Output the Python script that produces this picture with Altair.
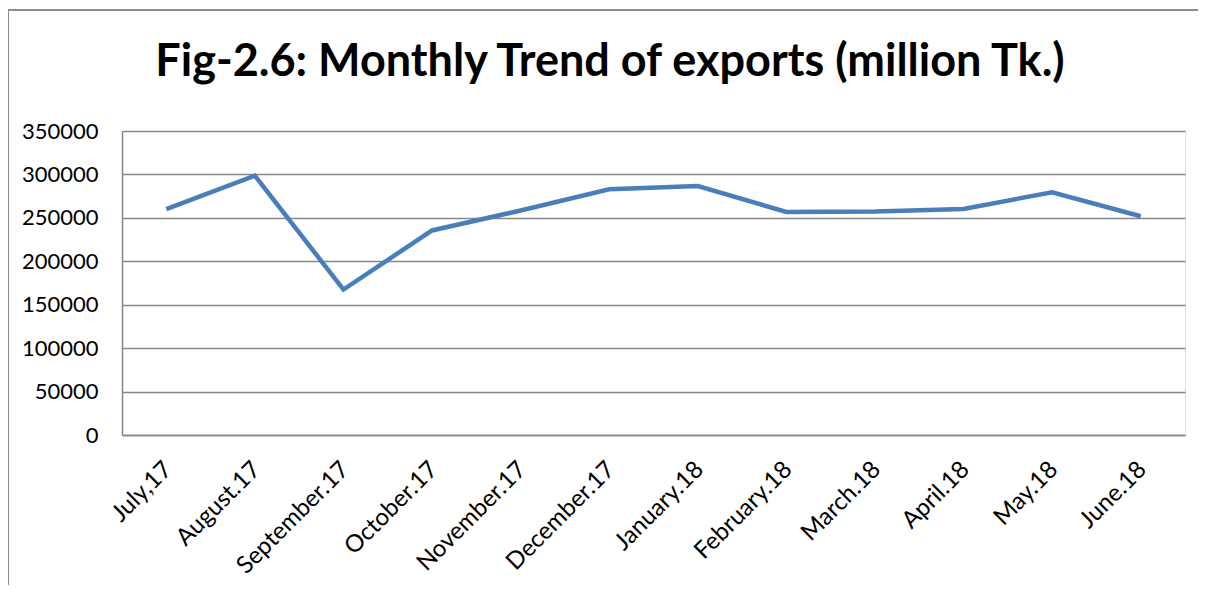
import altair as alt
import pandas as pd

months = ["July,17", "August.17", "September.17", "October.17", "November.17",
          "December.17", "January.18", "February.18", "March.18", "April.18",
          "May.18", "June.18"]
exports = [260000, 298500, 167500, 235500, 258500, 283000, 286700, 256800,
           257200, 260200, 279500, 251900]
y_ticks = [0, 50000, 100000, 150000, 200000, 250000, 300000, 350000]
title_text = "Fig-2.6: Monthly Trend of exports (million Tk.)"

df = pd.DataFrame({"Month": months, "Exports": exports})
title_df = pd.DataFrame({"t": [title_text]})

FONT = "Lato"
GRAY = "#878787"

line = alt.Chart(df).mark_line(color="#4A7EBB", strokeWidth=4.5).encode(
    x=alt.X("Month:N", sort=months, title=None,
            scale=alt.Scale(type="point", padding=0.5),
            axis=alt.Axis(labelAngle=-45, labelFont=FONT, labelFontSize=24,
                          labelColor="#000000", ticks=False, domainColor=GRAY,
                          domainWidth=1.5, labelPadding=22, labelAlign="right",
                          labelBaseline="top", labelOffset=-7, grid=False)),
    y=alt.Y("Exports:Q", title=None,
            scale=alt.Scale(domain=[0, 350000], nice=False),
            axis=alt.Axis(values=y_ticks, format="d", labelFont=FONT,
                          labelFontSize=22, labelColor="#000000", ticks=False,
                          labelPadding=24, domainColor=GRAY, domainWidth=1.5,
                          gridColor=GRAY, gridWidth=1.5, gridOpacity=1)),
)

title = alt.Chart(title_df).mark_text(
    font=FONT, fontSize=45, fontWeight="bold", color="#000000",
    align="center", baseline="alphabetic").encode(
    text="t:N", x=alt.value(488), y=alt.value(-55))

frame_v = alt.Chart(df).mark_rule(color="#8c8c8c", strokeWidth=1.5).encode(
    x=alt.value(-114), y=alt.value(-121), y2=alt.value(480))
frame_h = alt.Chart(df).mark_rule(color="#8c8c8c", strokeWidth=1.5).encode(
    x=alt.value(-114), x2=alt.value(1090), y=alt.value(-121))

chart = alt.layer(frame_v, frame_h, title, line).properties(
    width=1063, height=304,
    padding={"left": 114, "top": 123, "right": 13, "bottom": 150},
    autosize=alt.AutoSizeParams(type="none"),
).configure_view(stroke=None).configure(background="white")

chart.save("out.html", embed_options={"renderer": "svg", "actions": False})
